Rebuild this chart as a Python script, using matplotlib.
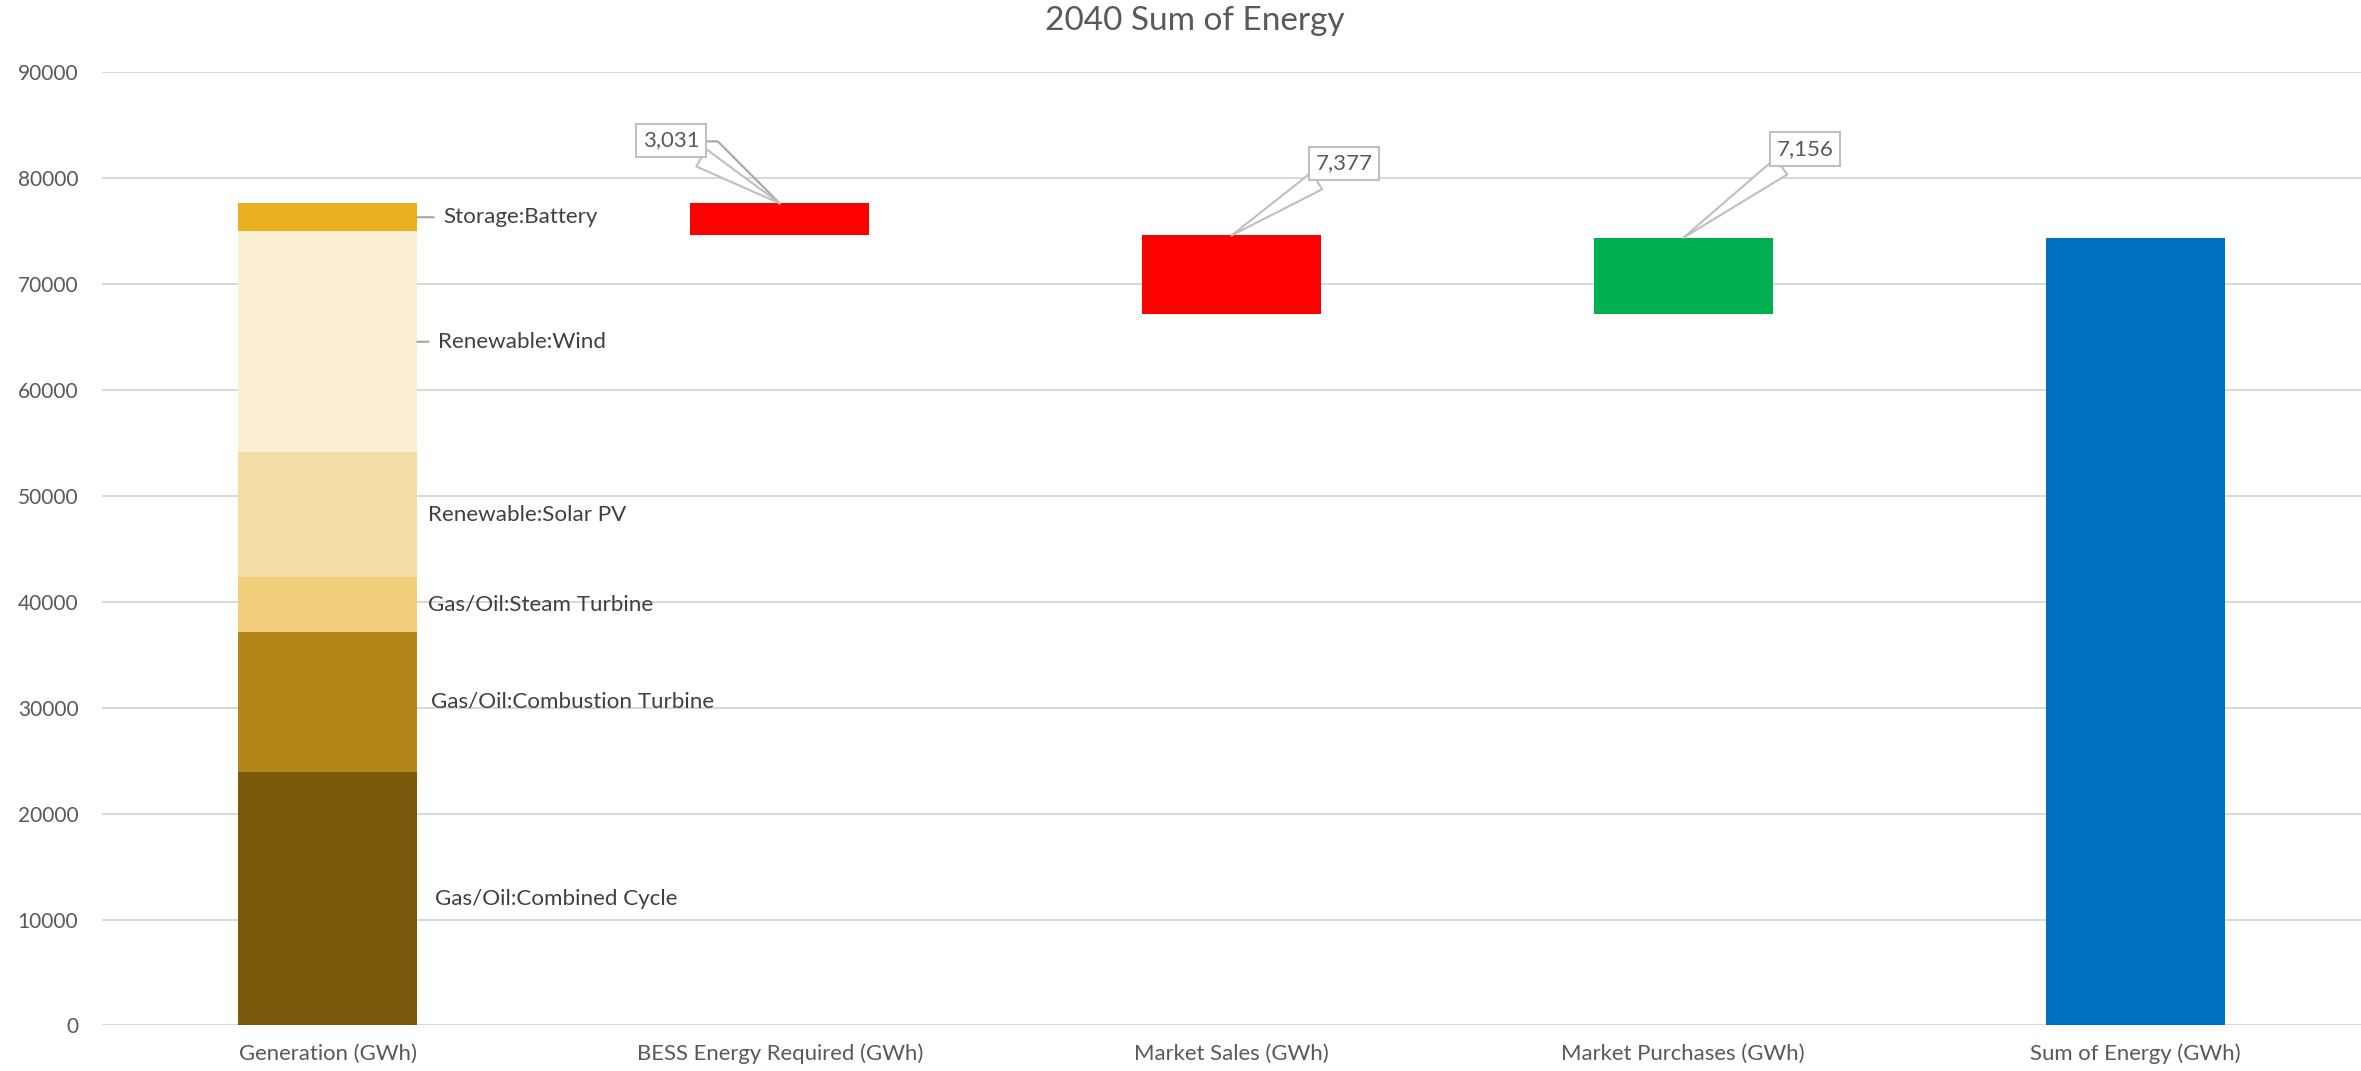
import matplotlib
matplotlib.use("Agg")
import matplotlib.pyplot as plt

plt.rcParams['font.family'] = ['Lato', 'DejaVu Sans']

categories = ["Generation (GWh)", "BESS Energy Required (GWh)", "Market Sales (GWh)",
              "Market Purchases (GWh)", "Sum of Energy (GWh)"]

gen_names = ["Gas/Oil:Combined Cycle", "Gas/Oil:Combustion Turbine", "Gas/Oil:Steam Turbine",
             "Renewable:Solar PV", "Renewable:Wind", "Storage:Battery"]
gen_values = [23940, 13230, 5200, 11720, 20890, 2620]
gen_colors = ["#7A590C", "#B3861A", "#F0CE7A", "#F4DEA7", "#FAEFD4", "#E8AF20"]

bess_required = 3031
market_sales = 7377
market_purchases = 7156

# label x offsets from the bar edge (data units), leader line or not
label_dx = [0.038, 0.031, 0.024, 0.024, 0.046, 0.058]
label_leader = [False, False, False, False, True, True]

fig = plt.figure(figsize=(23.61, 10.71), dpi=100)
ax = fig.add_axes([0.0432, 0.0425, 0.9568, 0.8903])

w = 0.396
txt = "#595959"

# stacked generation bar
bottom = 0
for i in range(len(gen_values)):
    ax.bar(0, gen_values[i], bottom=bottom, width=w, color=gen_colors[i], zorder=2)
    mid = bottom + gen_values[i] / 2
    if label_leader[i]:
        ax.annotate(gen_names[i], xy=(w / 2, mid), xytext=(w / 2 + label_dx[i], mid),
                    va="center", ha="left", fontsize=16.1, color="#404040",
                    arrowprops=dict(arrowstyle="-", color="#A6A6A6", lw=1.5,
                                    shrinkA=5, shrinkB=0))
    else:
        ax.text(w / 2 + label_dx[i], mid, gen_names[i], va="center", ha="left",
                fontsize=16.1, color="#404040", zorder=3)
    bottom += gen_values[i]
gen_total = bottom

bess_bottom = gen_total - bess_required
sales_bottom = bess_bottom - market_sales
total_energy = sales_bottom + market_purchases

ax.bar(1, bess_required, bottom=bess_bottom, width=w, color="#FF0000", zorder=2)
ax.bar(2, market_sales, bottom=sales_bottom, width=w, color="#FF0000", zorder=2)
ax.bar(3, market_purchases, bottom=sales_bottom, width=w, color="#00B050", zorder=2)
ax.bar(4, total_energy, width=w, color="#0070C0", zorder=2)

# callout labels
callouts = [(1, gen_total, bess_required, (0.76, 83540)),
            (2, bess_bottom, market_sales, (2.249, 81370)),
            (3, total_energy, market_purchases, (3.270, 82730))]
for x, top, val, pos in callouts:
    ax.annotate(f"{val:,}", xy=(x, top), xytext=pos, ha="center", va="center",
                fontsize=16, color=txt, zorder=5,
                bbox=dict(boxstyle="square,pad=0.3", fc="white", ec="#BFBFBF", lw=1.5),
                arrowprops=dict(arrowstyle="wedge,tail_width=0.9", fc="white",
                                ec="#BFBFBF", lw=1.5, shrinkA=0, shrinkB=0))

# leader line on the first callout
x0, y0 = 0.76, 83540
ax.plot([x0 + 0.079, x0 + 0.103, 1.0], [y0 - 90, y0 - 90, gen_total],
        color="#A6A6A6", lw=1.5, zorder=4)

ax.set_xlim(-0.5, 4.5)
ax.set_ylim(0, 90000)
ax.set_yticks(range(0, 90001, 10000))
ax.set_xticks(range(len(categories)))
ax.set_xticklabels(categories, fontsize=15.9)
ax.yaxis.grid(True, color="#D9D9D9", lw=1.5, zorder=0)
ax.set_axisbelow(True)
for s in ax.spines.values():
    s.set_visible(False)
ax.tick_params(axis="both", length=0, labelcolor=txt)
ax.tick_params(axis="y", pad=17, labelsize=15)
ax.tick_params(axis="x", pad=13)

fig.text(0.506, 0.980, "2040 Sum of Energy", ha="center", va="center", fontsize=24, color=txt)

fig.savefig("out.png", dpi=100)
